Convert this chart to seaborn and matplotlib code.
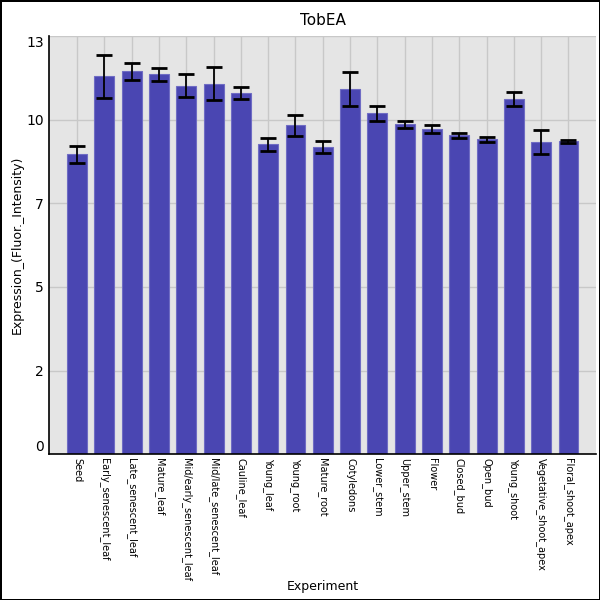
import numpy as np
import pandas as pd
import matplotlib
matplotlib.use('Agg')
import matplotlib.pyplot as plt
import seaborn as sns

experiments = ['Seed', 'Early_senescent_leaf', 'Late_senescent_leaf', 'Mature_leaf',
               'Mid/early_senescent_leaf', 'Mid/late_senescent_leaf', 'Cauline_leaf',
               'Young_leaf', 'Young_root', 'Mature_root', 'Cotyledons', 'Lower_stem',
               'Upper_stem', 'Flower', 'Closed_bud', 'Open_bud', 'Young_shoot',
               'Vegetative_shoot_apex', 'Floral_shoot_apex']
expression = [8.96, 11.29, 11.44, 11.35, 11.02, 11.08, 10.79, 9.26, 9.83, 9.17,
              10.91, 10.19, 9.86, 9.71, 9.53, 9.41, 10.61, 9.32, 9.35]
err = [0.25, 0.64, 0.25, 0.19, 0.33, 0.50, 0.18, 0.20, 0.32, 0.18,
       0.51, 0.22, 0.10, 0.12, 0.07, 0.085, 0.21, 0.36, 0.05]
ytick_vals = [0, 2.5, 5, 7.5, 10, 12.5]
ytick_labels = ['0', '2', '5', '7', '10', '13']

df = pd.DataFrame({'Experiment': experiments, 'Expression': expression, 'err': err})

sns.set_style('white')
plt.rcParams['font.family'] = ['DejaVu Sans']
plt.rcParams['text.color'] = 'black'
plt.rcParams['axes.labelcolor'] = 'black'
plt.rcParams['xtick.color'] = 'black'
plt.rcParams['ytick.color'] = 'black'

fig = plt.figure(figsize=(6, 6), dpi=100)
fig.patch.set_edgecolor('black')
fig.patch.set_linewidth(2)
ax = fig.add_axes([0.082, 0.243, 0.911, 0.697])
ax.set_facecolor('#e5e5e5')

sns.barplot(data=df, x='Experiment', y='Expression', color='#4a46b2', saturation=1,
            width=0.73, edgecolor='#6f6cc4', linewidth=0.8, ax=ax, zorder=2)
ax.errorbar(np.arange(len(experiments)), df['Expression'], yerr=df['err'], fmt='none',
            ecolor='black', elinewidth=1.3, capsize=6, capthick=2, zorder=3)

ax.set_xlim(-1.02, len(experiments))
ax.set_ylim(0, 12.5)
ax.set_yticks(ytick_vals)
ax.set_yticklabels(ytick_labels, fontsize=10, color='black')
ax.get_yticklabels()[0].set_va('bottom')
ax.get_yticklabels()[-1].set_va('top')
ax.tick_params(axis='both', length=0, pad=4)
ax.tick_params(axis='x', pad=3)
ax.set_xticks(range(len(experiments)))
ax.set_xticklabels(experiments, rotation=270, fontsize=7, va='top', ha='center', color='black')

ax.grid(True, color='#c8c8c8', linewidth=1)
ax.set_axisbelow(True)
for s in ['top', 'right']:
    ax.spines[s].set_visible(False)
for s in ['left', 'bottom']:
    ax.spines[s].set_color('black')
    ax.spines[s].set_linewidth(1.2)

ax.set_title('TobEA', fontsize=11, pad=8, color='black')
ax.set_xlabel('Experiment', fontsize=9, color='black')
ax.set_ylabel('Expression_(Fluor._Intensity)', fontsize=9, color='black')
ax.xaxis.set_label_coords(0.5, -0.30)
ax.yaxis.set_label_coords(-0.047, 0.5)

fig.savefig('out.png', dpi=100)
